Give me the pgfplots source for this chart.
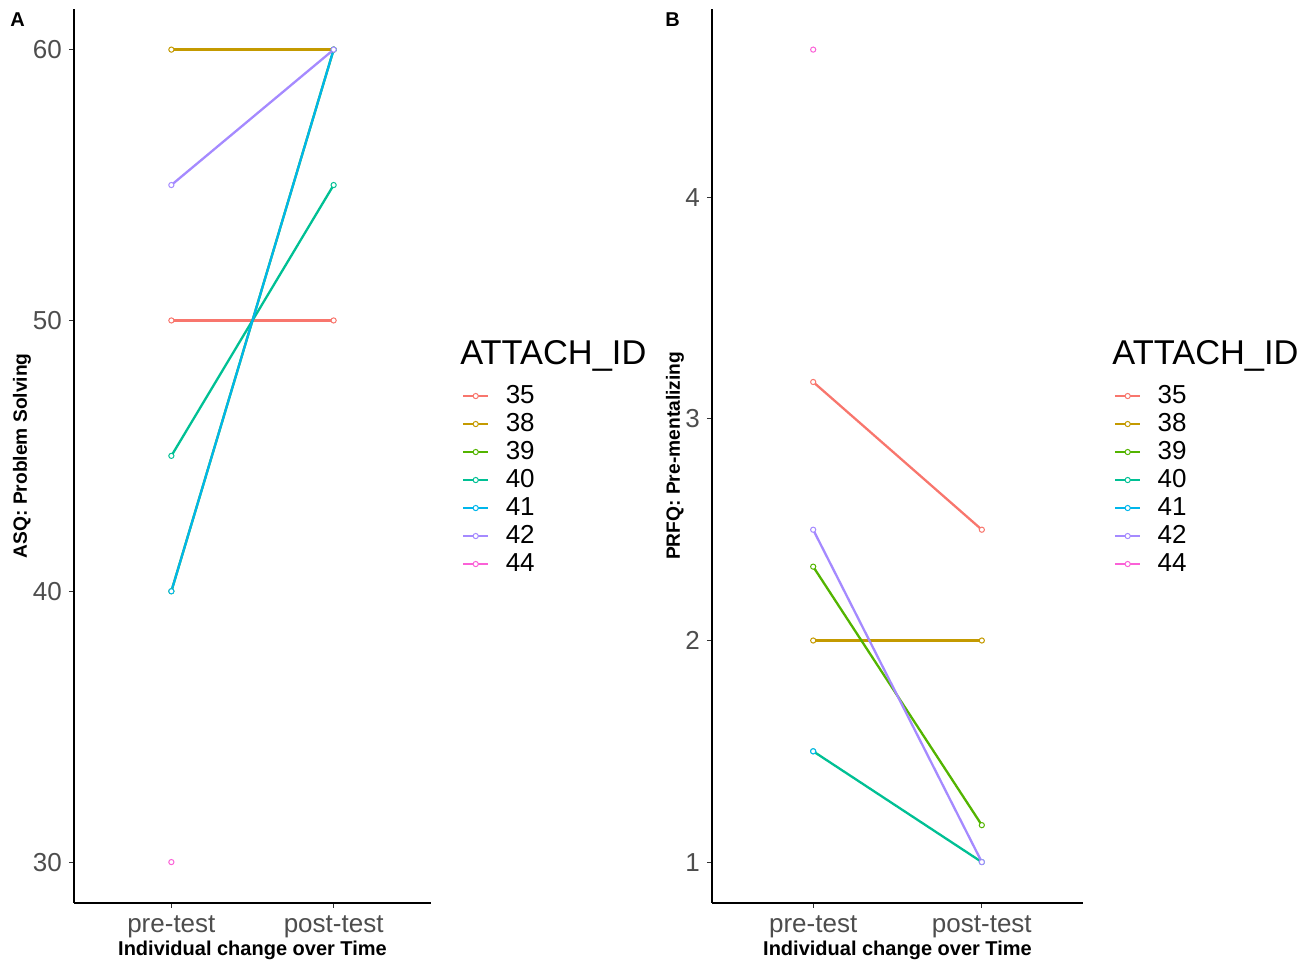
\documentclass[border=0pt]{standalone}
\usepackage{fontspec}
\setmainfont{Liberation Sans}
\usepackage{pgfplots}
\pgfplotsset{compat=1.18}
\definecolor{c35}{HTML}{F8766D}
\definecolor{c38}{HTML}{C49A00}
\definecolor{c39}{HTML}{53B400}
\definecolor{c40}{HTML}{00C094}
\definecolor{c41}{HTML}{00B6EB}
\definecolor{c42}{HTML}{A58AFF}
\definecolor{c44}{HTML}{FB61D7}
\definecolor{tickgray}{HTML}{4D4D4D}
\pgfplotsset{
  panel/.style={
    scale only axis,
    clip=false,
    height=446.85pt,
    axis lines*=left,
    axis line style={black, line width=1pt, -},
    xmin=0.4, xmax=2.6,
    xtick={1,2}, xticklabels={pre-test,post-test},
    tick align=outside,
    major tick length=2.6pt,
    tick style={color=black!80, line width=0.5pt},
    ticklabel style={font=\fontsize{13}{13}\selectfont, text=tickgray},
    xticklabel style={yshift=-0.5pt},
    /pgf/number format/assume math mode=true,
    xlabel={Individual change over Time},
    every axis x label/.style={at={(axis description cs:0.5,-0.0529)}, anchor=center, font=\bfseries\fontsize{10}{12}\selectfont},
    every axis plot/.append style={line width=1.15pt, mark=*, mark size=1.3pt, mark options={line width=0.5pt, fill=white, solid}},
    legend cell align=left,
    legend image code/.code={
      \draw[##1, mark=none] (0pt,0pt) -- (12.5pt,0pt);
      \draw[##1, only marks] plot coordinates {(6.25pt,0pt)};
    },
    legend style={draw=none, fill=none, inner sep=0pt, outer sep=0pt,
      row sep=0pt, font=\fontsize{13}{13}\selectfont,
      nodes={inner xsep=0pt, inner ysep=0pt, minimum height=14pt},
      /tikz/every odd column/.append style={column sep=8.2pt}},
  }
}
\begin{document}
\begin{tikzpicture}
\path[use as bounding box] (0,0) rectangle (657.5pt,482.5pt);
% Panel A
\begin{axis}[panel, at={(37pt,31.15pt)}, anchor=south west,
  width=178.5pt,
  ymin=28.5, ymax=61.5, ytick={30,40,50,60},
  ylabel={ASQ: Problem Solving},
  every axis y label/.style={at={(axis description cs:-0.1457,0.5)}, rotate=90, anchor=center, font=\bfseries\fontsize{9.6}{12}\selectfont},
  legend style={at={(axis description cs:1.087,0.5826)}, anchor=north west},
]
\addplot[c35] coordinates {(1,50) (2,50)};
\addplot[c38] coordinates {(1,60) (2,60)};
\addplot[c39] coordinates {(1,40) (2,60)};
\addplot[c40] coordinates {(1,45) (2,55)};
\addplot[c41] coordinates {(1,40) (2,60)};
\addplot[c42] coordinates {(1,55) (2,60)};
\addplot[c44] coordinates {(1,30)};
\legend{35,38,39,40,41,42,44}
\node[anchor=base west, font=\fontsize{17.2}{17.2}\selectfont, inner sep=0pt] at (axis description cs:1.081,0.6017) {ATTACH\_ID};
\node[anchor=north west, font=\bfseries\fontsize{10}{10}\selectfont, inner sep=0pt] at (axis description cs:-0.1793,0.9966) {A};
\end{axis}
% Panel B
\begin{axis}[panel, at={(356pt,31.15pt)}, anchor=south west,
  width=185.5pt,
  ymin=0.8167, ymax=4.85, ytick={1,2,3,4},
  ylabel={PRFQ: Pre-mentalizing},
  every axis y label/.style={at={(axis description cs:-0.0997,0.5)}, rotate=90, anchor=center, font=\bfseries\fontsize{9.6}{12}\selectfont},
  legend style={at={(axis description cs:1.0836,0.5826)}, anchor=north west},
]
\addplot[c35] coordinates {(1,3.1667) (2,2.5)};
\addplot[c38] coordinates {(1,2) (2,2)};
\addplot[c39] coordinates {(1,2.3333) (2,1.1667)};
\addplot[c40] coordinates {(1,1.5) (2,1)};
\addplot[c41] coordinates {(1,1.5)};
\addplot[c42] coordinates {(1,2.5) (2,1)};
\addplot[c44] coordinates {(1,4.6667)};
\legend{35,38,39,40,41,42,44}
\node[anchor=base west, font=\fontsize{17.2}{17.2}\selectfont, inner sep=0pt] at (axis description cs:1.0782,0.6017) {ATTACH\_ID};
\node[anchor=north west, font=\bfseries\fontsize{10}{10}\selectfont, inner sep=0pt] at (axis description cs:-0.1267,0.9966) {B};
\end{axis}
\end{tikzpicture}
\end{document}
